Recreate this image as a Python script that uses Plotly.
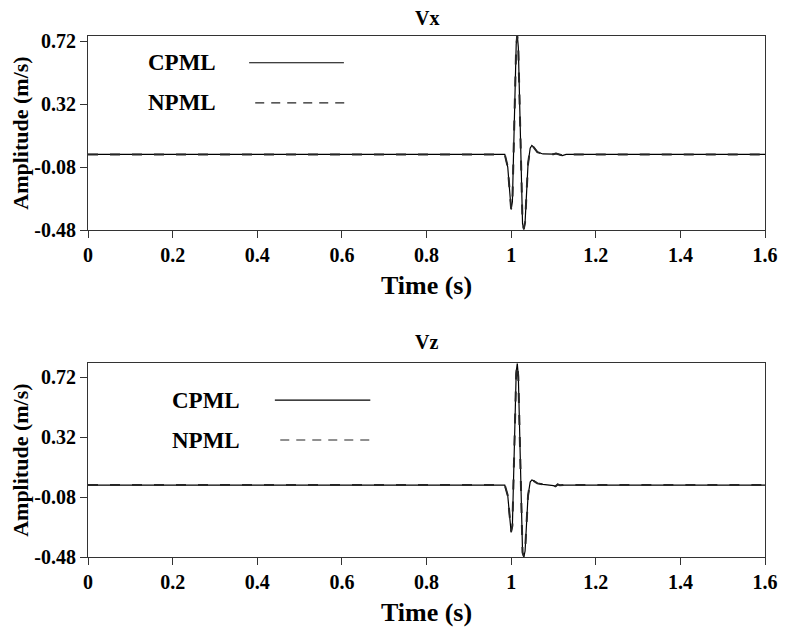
import plotly.graph_objects as go
from plotly.subplots import make_subplots

# ---- data ----
vx_t_cpml = [0, 0.985, 0.992, 0.997, 1.000, 1.003, 1.012, 1.0145, 1.017, 1.027, 1.030, 1.033, 1.040, 1.045, 1.049, 1.054, 1.062, 1.075, 1.090, 1.100, 1.106, 1.113, 1.121, 1.130, 1.6]
vx_a_cpml = [0, 0.0, -0.08, -0.27, -0.35, -0.30, 0.70, 0.762, 0.68, -0.44, -0.478, -0.43, -0.06, 0.04, 0.057, 0.045, 0.015, 0.003, 0.0, 0.002, 0.006, 0.0, -0.008, 0.0, 0]
vx_t_npml = [0, 0.985, 0.992, 0.997, 1.000, 1.003, 1.012, 1.0145, 1.017, 1.027, 1.030, 1.033, 1.040, 1.045, 1.049, 1.054, 1.062, 1.075, 1.090, 1.100, 1.106, 1.113, 1.121, 1.130, 1.6]
vx_a_npml = [0, 0.0, -0.08, -0.27, -0.345, -0.30, 0.69, 0.755, 0.67, -0.44, -0.472, -0.43, -0.06, 0.04, 0.055, 0.043, 0.014, 0.003, 0.0, 0.001, 0.005, 0.0, -0.006, 0.0, 0]

vz_t_cpml = [0, 0.985, 0.992, 0.997, 1.000, 1.003, 1.012, 1.0145, 1.017, 1.027, 1.030, 1.033, 1.040, 1.045, 1.049, 1.054, 1.062, 1.075, 1.090, 1.100, 1.105, 1.110, 1.115, 1.125, 1.6]
vz_a_cpml = [0, 0.0, -0.07, -0.25, -0.316, -0.27, 0.75, 0.812, 0.73, -0.45, -0.48, -0.44, -0.07, 0.02, 0.034, 0.028, 0.012, 0.004, 0.0, -0.004, -0.010, 0.005, -0.002, 0.0, 0]
vz_t_npml = [0, 0.985, 0.992, 0.997, 1.000, 1.003, 1.012, 1.0145, 1.017, 1.027, 1.030, 1.033, 1.040, 1.045, 1.049, 1.054, 1.062, 1.075, 1.090, 1.100, 1.105, 1.110, 1.115, 1.125, 1.6]
vz_a_npml = [0, 0.0, -0.07, -0.25, -0.31, -0.27, 0.74, 0.805, 0.72, -0.45, -0.475, -0.44, -0.07, 0.02, 0.032, 0.026, 0.011, 0.004, 0.0, -0.003, -0.008, 0.004, -0.002, 0.0, 0]

x_ticks = [0, 0.2, 0.4, 0.6, 0.8, 1.0, 1.2, 1.4, 1.6]
x_tick_labels = ["0", "0.2", "0.4", "0.6", "0.8", "1", "1.2", "1.4", "1.6"]
y_ticks = [0.72, 0.32, -0.08, -0.48]
y_tick_labels = ["0.72", "0.32", "-0.08", "-0.48"]
series_names = ["CPML", "NPML"]
panel_titles = ["Vx", "Vz"]

FONT = "Liberation Serif"

fig = make_subplots(rows=2, cols=1)
# page body has an 8px margin, so the figure is sized to fit the 786x628 window
fig.update_layout(
    width=778, height=620,
    margin=dict(l=80, r=21, t=28, b=71, autoexpand=False),
    paper_bgcolor="white", plot_bgcolor="white",
    showlegend=False,
    font=dict(family=FONT, color="black"),
)
fig.update_yaxes(domain=[0.6276, 1.0], row=1, col=1)
fig.update_yaxes(domain=[0.0, 0.3718], row=2, col=1)

solid = dict(color="black", width=1.2)
dashed = dict(color="#262626", width=2, dash="10px,12px")

fig.add_trace(go.Scatter(x=vx_t_cpml, y=vx_a_cpml, mode="lines", line=solid, name=series_names[0]), row=1, col=1)
fig.add_trace(go.Scatter(x=vx_t_npml, y=vx_a_npml, mode="lines", line=dashed, name=series_names[1]), row=1, col=1)
fig.add_trace(go.Scatter(x=vz_t_cpml, y=vz_a_cpml, mode="lines", line=solid, name=series_names[0]), row=2, col=1)
fig.add_trace(go.Scatter(x=vz_t_npml, y=vz_a_npml, mode="lines", line=dashed, name=series_names[1]), row=2, col=1)

axis_common = dict(
    showline=True, linecolor="#333", linewidth=1.2, mirror=True,
    ticks="outside", ticklen=7, tickwidth=1.2, tickcolor="#333",
    showgrid=False, zeroline=False, automargin=False,
    tickfont=dict(family=FONT, size=20, color="black", weight="bold"),
)
for r in (1, 2):
    fig.update_xaxes(range=[0, 1.6], tickvals=x_ticks, ticktext=x_tick_labels,
                     title=dict(text="<b>Time (s)</b>", font=dict(family=FONT, size=26), standoff=10),
                     row=r, col=1, **axis_common)
fig.update_yaxes(range=[-0.48, 0.752], row=1, col=1)
fig.update_yaxes(range=[-0.48, 0.812], row=2, col=1)
for r in (1, 2):
    fig.update_yaxes(tickvals=y_ticks, ticktext=y_tick_labels,
                     title=dict(text="<b>Amplitude (m/s)</b>", font=dict(family=FONT, size=22), standoff=4),
                     row=r, col=1, **axis_common)

# panel titles (centre positions in axis-domain units)
for xr, yr, ty, title in [("x domain", "y domain", 1.095, panel_titles[0]),
                          ("x2 domain", "y2 domain", 1.11, panel_titles[1])]:
    fig.add_annotation(text=f"<b>{title}</b>", xref=xr, yref=yr,
                       x=0.5, y=ty, xanchor="center", yanchor="middle", showarrow=False,
                       borderpad=0, font=dict(family=FONT, size=20, color="black"))

# in-plot legends: text left, line sample right
leg = [
    ("x domain", "y domain", 0.139, 0.862, (0.238, 0.378), 0.655, (0.247, 0.384)),
    ("x2 domain", "y2 domain", 0.174, 0.81, (0.276, 0.417), 0.604, (0.284, 0.424)),
]
for xr, yr, tx, y1, l1, y2, l2 in leg:
    fig.add_annotation(text=f"<b>{series_names[0]}</b>", xref=xr, yref=yr, x=tx, y=y1,
                       xanchor="center", yanchor="middle",
                       showarrow=False, font=dict(family=FONT, size=23, color="black"))
    fig.add_annotation(text=f"<b>{series_names[1]}</b>", xref=xr, yref=yr, x=tx, y=y2,
                       xanchor="center", yanchor="middle",
                       showarrow=False, font=dict(family=FONT, size=23, color="black"))
    fig.add_shape(type="line", xref=xr, yref=yr, x0=l1[0], x1=l1[1], y0=y1, y1=y1,
                  line=dict(color="black", width=1.2))
    fig.add_shape(type="line", xref=xr, yref=yr, x0=l2[0], x1=l2[1], y0=y2, y1=y2,
                  line=dict(color="#222", width=1.2, dash="9px,7px"))

fig.write_html("out.html")
